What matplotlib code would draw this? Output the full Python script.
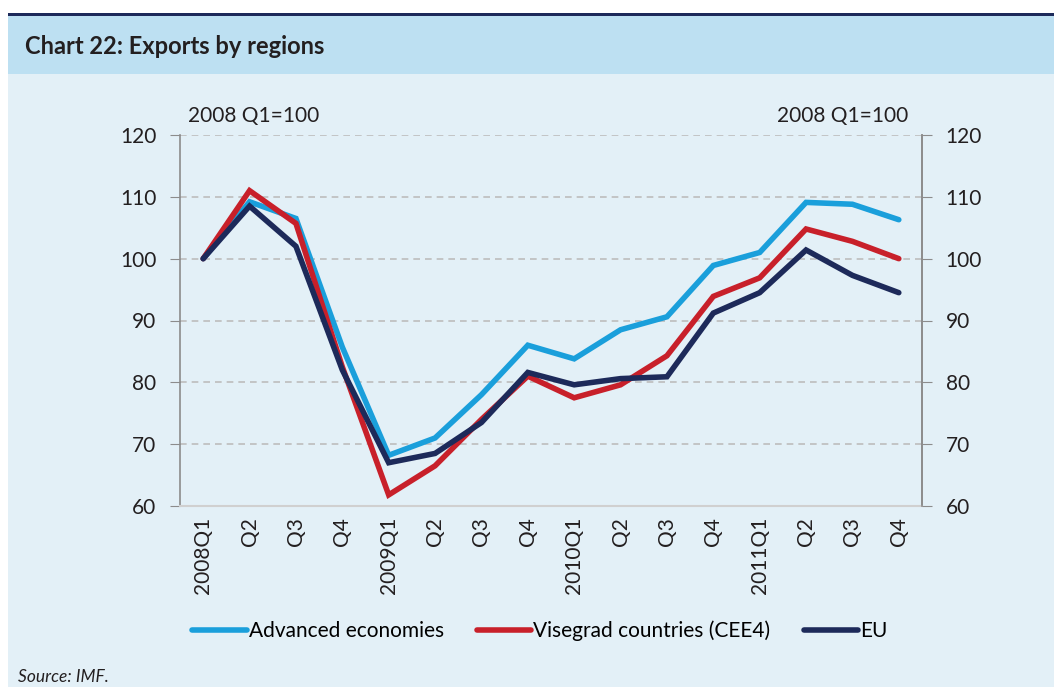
import matplotlib
matplotlib.use("Agg")
import matplotlib.pyplot as plt
from matplotlib.patches import Rectangle

plt.rcParams['font.family'] = ['Lato', 'DejaVu Sans']

# data (2008 Q1 = 100)
quarters = ['2008Q1', 'Q2', 'Q3', 'Q4',
            '2009Q1', 'Q2', 'Q3', 'Q4',
            '2010Q1', 'Q2', 'Q3', 'Q4',
            '2011Q1', 'Q2', 'Q3', 'Q4']
advanced = [100, 109.2, 106.5, 85.7, 68.2, 71.0, 78.0, 86.0,
            83.8, 88.5, 90.6, 98.9, 101.0, 109.1, 108.8, 106.3]
visegrad = [100, 111.0, 105.7, 82.5, 61.8, 66.5, 74.0, 81.0,
            77.5, 79.6, 84.3, 93.9, 96.9, 104.8, 102.8, 100.0]
eu = [100, 108.5, 102.0, 82.0, 67.0, 68.5, 73.5, 81.6,
      79.6, 80.6, 80.9, 91.2, 94.5, 101.4, 97.3, 94.5]

series_names = ['Advanced economies', 'Visegrad countries (CEE4)', 'EU']
series_colors = ['#1A9FDB', '#C8202A', '#1D2A5A']

fig = plt.figure(figsize=(10.54, 6.87), dpi=100)
W, H = 1054, 687

# background panels in their own axes, kept behind everything
bg = fig.add_axes([0, 0, 1, 1], zorder=-10)
bg.set_xlim(0, W)
bg.set_ylim(H, 0)
bg.axis('off')
bg.add_patch(Rectangle((8, 74), W, H, facecolor='#E3F0F7', edgecolor='none'))
bg.add_patch(Rectangle((8, 15), W, 59, facecolor='#BDE0F2', edgecolor='none'))
bg.add_patch(Rectangle((8, 13), W, 3, facecolor='#1D2A5A', edgecolor='none'))

fig.text(25 / W, 1 - 46 / H, 'Chart 22: Exports by regions', fontsize=17,
         fontweight='bold', color='#231F20', va='center', ha='left')
fig.text(18 / W, 1 - 677 / H, 'Source: IMF.', fontsize=12.5, style='italic',
         color='#231F20', va='center', ha='left')

ax = fig.add_axes([180 / W, 1 - 506 / H, (922 - 180) / W, (506 - 135) / H])
ax.set_facecolor('none')

x = list(range(len(quarters)))
for vals, name, col in zip([advanced, visegrad, eu], series_names, series_colors):
    ax.plot(x, vals, color=col, lw=4, label=name, solid_capstyle='round',
            solid_joinstyle='miter')

ax.set_xlim(-0.5, len(quarters) - 0.5)
ax.set_ylim(60, 120)
ax.set_yticks(range(60, 121, 10))
ax.set_xticks(x)
ax.set_xticklabels(quarters, rotation=90, fontsize=15, color='#231F20')
ax.tick_params(axis='x', length=0, pad=8)
ax.tick_params(axis='y', labelsize=15, labelcolor='#231F20', color='#8C8C8C',
               length=7, pad=10)
ax.grid(axis='y', color='#BDBDBD', linestyle=(0, (4, 3)), lw=1.2)
ax.spines['top'].set_visible(False)
ax.spines['bottom'].set_color('#D0D0D0')
ax.spines['bottom'].set_linewidth(1.5)
for s in ['left', 'right']:
    ax.spines[s].set_color('#8C8C8C')
    ax.spines[s].set_linewidth(1.2)

ax2 = ax.twinx()
ax2.set_ylim(60, 120)
ax2.set_yticks(range(60, 121, 10))
ax2.tick_params(axis='y', labelsize=15, labelcolor='#231F20', color='#8C8C8C',
                length=7, pad=10)
for s in ['top', 'left', 'bottom']:
    ax2.spines[s].set_visible(False)
ax2.spines['right'].set_color('#8C8C8C')
ax2.spines['right'].set_linewidth(1.2)

fig.text(188 / W, 1 - 116 / H, '2008 Q1=100', fontsize=15, color='#231F20',
         va='center', ha='left')
fig.text(908 / W, 1 - 116 / H, '2008 Q1=100', fontsize=15, color='#231F20',
         va='center', ha='right')

handles, labels = ax.get_legend_handles_labels()
fig.legend(handles, labels, loc='center', bbox_to_anchor=(540 / W, 1 - 631 / H),
           ncol=3, frameon=False, fontsize=15, handlelength=2.6,
           handletextpad=0.1, columnspacing=1.6)

fig.savefig('out.png', dpi=100)
